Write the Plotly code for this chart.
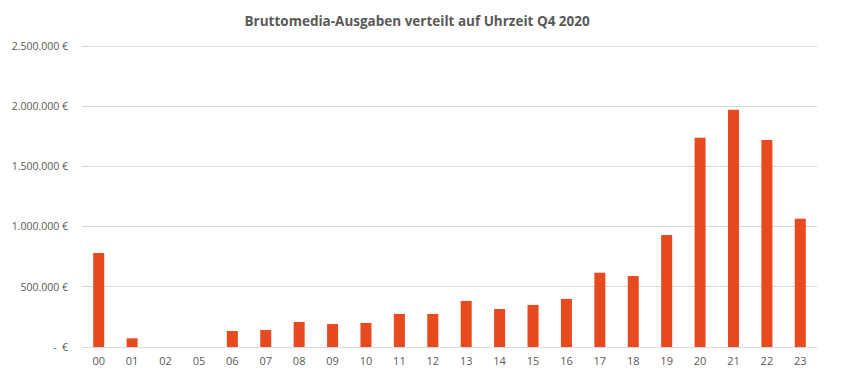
import plotly.graph_objects as go

hours = ["00", "01", "02", "05", "06", "07", "08", "09", "10", "11", "12",
         "13", "14", "15", "16", "17", "18", "19", "20", "21", "22", "23"]
spend = [782000, 72000, 0, 0, 133000, 141000, 208000, 191000, 200000, 275000, 275000,
         383000, 316000, 350000, 400000, 618000, 590000, 932000, 1741000, 1974000, 1722000, 1067000]
y_ticks = [0, 500000, 1000000, 1500000, 2000000, 2500000]
y_tick_labels = ["-\u00a0\u00a0€", "500.000 €", "1.000.000 €", "1.500.000 €", "2.000.000 €", "2.500.000 €"]
title = "Bruttomedia-Ausgaben verteilt auf Uhrzeit Q4 2020"

fig = go.Figure(go.Bar(x=hours, y=spend, marker_color="#E84A1F", marker_line_width=0))

fig.update_layout(
    width=835, height=371,
    margin=dict(l=74, r=26, t=37, b=32),
    paper_bgcolor="white", plot_bgcolor="white",
    bargap=0.67,
    showlegend=False,
    font=dict(family="Open Sans, Liberation Sans, sans-serif", color="#595959", size=11),
    title=dict(text="<b>" + title + "</b>", x=0.49, xanchor="center", y=0.965, yanchor="middle",
               font=dict(size=13.5, color="#595959")),
)
fig.update_xaxes(type="category", showgrid=False, showline=False, ticks="", automargin=False,
                 ticklabelstandoff=6, tickfont=dict(size=11))
fig.update_yaxes(range=[0, 2512000], tickvals=y_ticks, ticktext=y_tick_labels, automargin=False,
                 showgrid=True, gridcolor="#D9D9D9", gridwidth=1, zeroline=True,
                 zerolinecolor="#D9D9D9", zerolinewidth=1, ticks="", ticklabelstandoff=13,
                 tickfont=dict(size=10.5))

fig.write_html("out.html")
